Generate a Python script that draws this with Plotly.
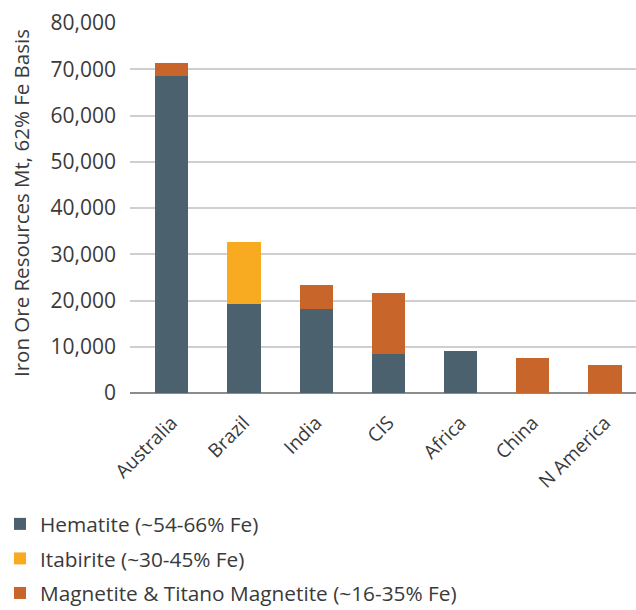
import plotly.graph_objects as go

regions = ["Australia", "Brazil", "India", "CIS", "Africa", "China", "N America"]
hematite = [68450, 19300, 18200, 8400, 9000, 0, 0]
itabirite = [0, 13300, 0, 0, 0, 0, 0]
magnetite = [2950, 0, 5200, 13300, 0, 7500, 6000]

series = [
    ("Hematite (~54-66% Fe)", hematite, "#4b616d"),
    ("Itabirite (~30-45% Fe)", itabirite, "#f8ab20"),
    ("Magnetite & Titano Magnetite (~16-35% Fe)", magnetite, "#c8652a"),
]

text_color = "#3a3a3a"
font_family = "Open Sans"

fig = go.Figure()
for name, vals, color in series:
    fig.add_trace(go.Bar(
        x=regions, y=vals, name=name, legendgroup=name,
        marker=dict(color=color, line=dict(width=0)),
    ))

fig.update_layout(
    width=636, height=610,
    barmode="stack", bargap=0.54,
    plot_bgcolor="white", paper_bgcolor="white",
    margin=dict(l=130, r=0, t=23, b=217),
    font=dict(family=font_family, color=text_color),
    legend=dict(
        xref="paper", yref="container", x=-0.257, y=0.174,
        xanchor="left", yanchor="top",
        traceorder="grouped", tracegroupgap=4.5,
        font=dict(size=20.8, color=text_color),
        itemclick=False,
    ),
    annotations=[dict(
        text="Iron Ore Resources Mt, 62% Fe Basis",
        xref="paper", yref="paper", x=-0.215, y=0.514,
        xanchor="center", yanchor="middle", textangle=-90,
        showarrow=False, font=dict(size=20.5, color=text_color),
    )],
)

fig.update_xaxes(
    range=[-0.58, 6.43], tickangle=-45,
    tickfont=dict(size=19, color=text_color),
    showgrid=False, showline=False, ticks="", ticklabelstandoff=14,
)
fig.update_yaxes(
    range=[0, 80000], dtick=10000, tickformat=",d",
    tickfont=dict(size=21, color=text_color),
    showgrid=True, gridcolor="#cfcfcf", gridwidth=1.5,
    zeroline=True, zerolinecolor="#8c8c8c", zerolinewidth=2,
    showline=False, ticks="", ticklabelstandoff=13,
)

fig.write_html("out.html")
